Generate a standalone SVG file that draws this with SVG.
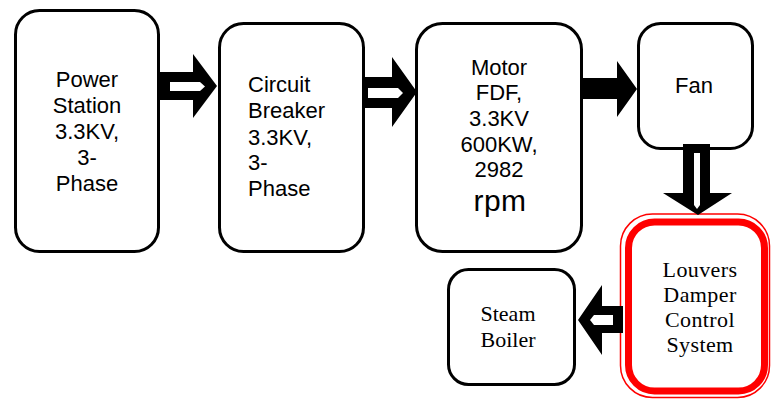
<svg xmlns="http://www.w3.org/2000/svg" width="771" height="399" viewBox="0 0 771 399">
<style>
.box{fill:#fff;stroke:#000;stroke-width:3}
.sans{font-family:"Liberation Sans",Arial,sans-serif;font-size:22px;fill:#000}
.serif{font-family:"Liberation Serif","Times New Roman",serif;font-size:22px;fill:#000;text-anchor:middle}
.mid{text-anchor:middle}
.arr{fill:#000}
.hole{fill:#fff}
</style>
<rect width="771" height="399" fill="#fff"/>
<g id="power-station">
<rect class="box" x="15.5" y="10.5" width="143" height="241" rx="24"/>
<text class="sans mid" x="87"><tspan x="87" y="87">Power</tspan><tspan x="87" y="113">Station</tspan><tspan x="87" y="139">3.3KV,</tspan><tspan x="87" y="165">3-</tspan><tspan x="87" y="191">Phase</tspan></text>
</g>
<g id="circuit-breaker">
<rect class="box" x="219.5" y="23.5" width="144" height="228" rx="24"/>
<text class="sans" x="248"><tspan x="248" y="92">Circuit</tspan><tspan x="248" y="118">Breaker</tspan><tspan x="248" y="145">3.3KV,</tspan><tspan x="248" y="170">3-</tspan><tspan x="248" y="196">Phase</tspan></text>
</g>
<g id="motor">
<rect class="box" x="416.5" y="23.5" width="165" height="228" rx="26"/>
<text class="sans mid" x="499"><tspan x="499" y="75">Motor</tspan><tspan x="499" y="100">FDF,</tspan><tspan x="499" y="126">3.3KV</tspan><tspan x="499" y="152">600KW,</tspan><tspan x="499" y="177">2982</tspan></text>
<text class="sans mid" x="500" y="211" style="font-size:30px;letter-spacing:0.5px">rpm</text>
</g>
<g id="fan">
<rect class="box" x="638.5" y="23.5" width="114" height="125" rx="22"/>
<text class="sans mid" x="694" y="93">Fan</text>
</g>
<g id="louvers-damper-control-system">
<rect x="620.5" y="214" width="149" height="183.5" rx="32" fill="#fff" stroke="#f00" stroke-width="1.5"/>
<rect x="628.5" y="222" width="136" height="169" rx="26" fill="#fff" stroke="#f00" stroke-width="7"/>
<text class="serif" x="700" style="letter-spacing:0.4px"><tspan x="700" y="277">Louvers</tspan><tspan x="700" y="302">Damper</tspan><tspan x="700" y="327">Control</tspan><tspan x="700" y="352">System</tspan></text>
</g>
<g id="steam-boiler">
<rect class="box" x="448.5" y="269.5" width="126" height="115" rx="20"/>
<text class="serif" x="508"><tspan x="508" y="321">Steam</tspan><tspan x="508" y="347">Boiler</tspan></text>
</g>
<g id="connectors">
<polygon class="arr" points="160,72 193,72 193,54 217,86 193,118 193,100 160,100"/>
<polygon class="hole" points="170,82 200,82 205,86.5 200,91 170,91"/>
<polygon class="arr" points="365,77 392,77 392,57 417,92 392,127 392,108 365,108"/>
<polygon class="hole" points="368,88 398,88 403,93 398,98 368,98"/>
<polygon class="arr" points="582,78 617,78 617,61 637,89 617,117 617,99 582,99"/>
<polygon class="arr" points="683,144 710,144 710,193 732,193 698,215 663,193 683,193"/>
<polygon class="hole" points="694,153 700,153 700,205 697,209 694,205"/>
<polygon class="arr" points="623,306 602,306 602,285 578,320 602,355 602,333 623,333"/>
<polygon class="hole" points="613,315 594,315 590,320 594,325 613,325"/>
</g>
</svg>
